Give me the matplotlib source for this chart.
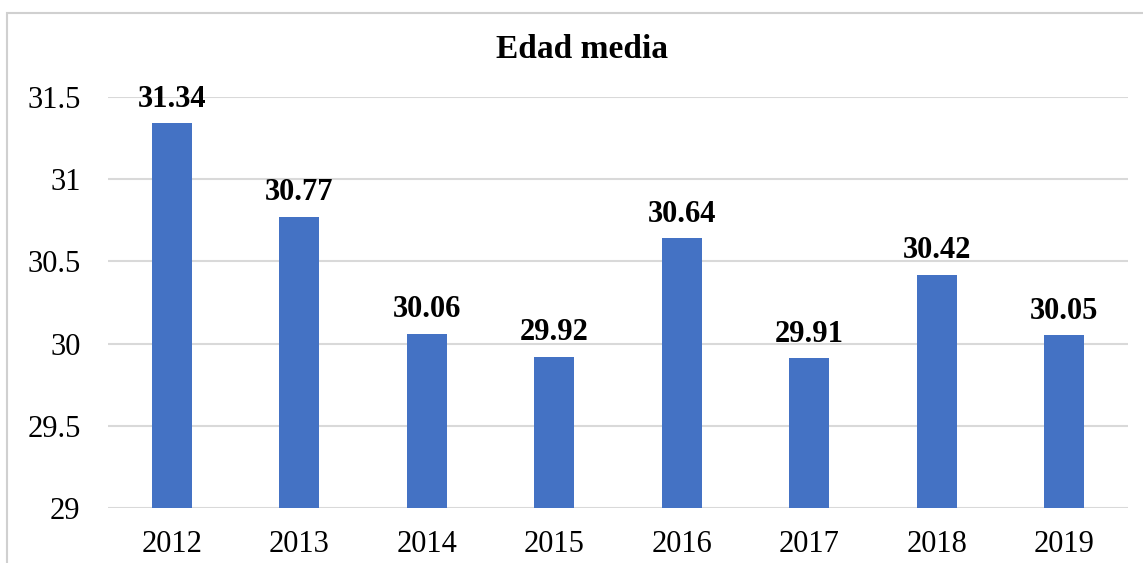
import matplotlib
matplotlib.use("Agg")
import matplotlib.pyplot as plt
from matplotlib.patches import Rectangle

years = ["2012", "2013", "2014", "2015", "2016", "2017", "2018", "2019"]
values = [31.34, 30.77, 30.06, 29.92, 30.64, 29.91, 30.42, 30.05]
yticks = [29, 29.5, 30, 30.5, 31, 31.5]
ytick_labels = ["29", "29.5", "30", "30.5", "31", "31.5"]
title = "Edad media"

plt.rcParams['font.family'] = ['Liberation Serif', 'DejaVu Serif']

W, H = 1143, 563
fig = plt.figure(figsize=(W / 100, H / 100), dpi=100)

# outer chart frame (light grey, extends past right/bottom edges)
fig.patches.append(Rectangle((7 / W, -0.05), 1.2, 1 - 13 / H + 0.05,
                             transform=fig.transFigure, fill=False,
                             edgecolor="#d0d0d0", linewidth=1.5))

ax = fig.add_axes([108.3 / W, 55 / H, 1019.4 / W, 411 / H])
x = range(len(years))
ax.bar(x, values, width=0.314, color="#4472C4", bottom=0, zorder=3)
ax.set_ylim(29, 31.5)
ax.set_xlim(-0.5, len(years) - 0.5)
ax.set_yticks(yticks)
ax.set_yticklabels(ytick_labels)
ax.set_xticks(list(x))
ax.set_xticklabels(years)
ax.tick_params(axis="both", length=0, labelsize=22, colors="black")
ax.tick_params(axis="y", pad=20)
ax.tick_params(axis="x", pad=16)
ax.yaxis.grid(True, color="#d9d9d9", linewidth=1.5, zorder=0)
for s in ax.spines.values():
    s.set_visible(False)

for xi, v in zip(x, values):
    ax.annotate(f"{v:.2f}", (xi, v), xytext=(0, 7), textcoords="offset points",
                ha="center", va="bottom", fontsize=22, fontweight="bold",
                annotation_clip=False)

fig.text(582 / W, 1 - 50 / H, title, ha="center", va="center",
         fontsize=24, fontweight="bold")

fig.savefig("out.png", dpi=100)
